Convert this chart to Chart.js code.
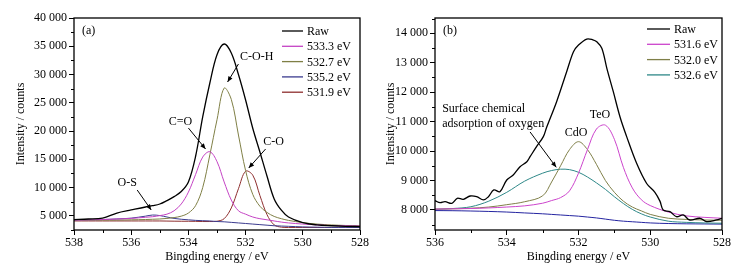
<!DOCTYPE html>
<html lang="en">
<head>
<meta charset="UTF-8">
<script src="https://cdn.jsdelivr.net/npm/chart.js"></script>
<title>O 1s XPS</title>
<style>
    body { margin: 0; background: #fff; }
    .wrap { position: relative; width: 747px; height: 273px; }
    #chartA { position: absolute; left: 0; top: 0; }
    #chartB { position: absolute; left: 370px; top: 0; }
</style>
</head>
<body>
<div class="wrap">
    <canvas id="chartA" width="370" height="273"></canvas>
    <canvas id="chartB" width="377" height="273"></canvas>
</div>
<script>
    // ---- panel (a) ----
    const aE = [538, 537.5, 537, 536.5, 536, 535.5, 535.25, 535, 534.75, 534.5, 534.25, 534, 533.75, 533.5, 533.25,
        533, 532.75, 532.5, 532.25, 532, 531.75, 531.5, 531.25, 531, 530.75, 530.5, 530, 529.5, 529, 528.5, 528];
    const aRaw = [4350, 4450, 4620, 5500, 6040, 6570, 6800, 7100, 7700, 8400, 9300, 11000, 15500, 22500, 28500,
        33500, 35400, 33800, 30000, 25500, 20500, 16300, 12000, 8000, 6000, 4800, 3800, 3400, 3250, 3150, 3100];
    const a5333 = [4250, 4300, 4350, 4450, 4550, 4750, 4850, 5050, 5300, 5900, 7100, 9200, 12300, 15400, 16350,
        14600, 11000, 7800, 5900, 5300, 4800, 4500, 4300, 4100, 3900, 3750, 3550, 3400, 3300, 3250, 3200];
    const a5327 = [4250, 4250, 4250, 4250, 4300, 4350, 4400, 4450, 4550, 4700, 4950, 5500, 6800, 10000, 15800,
        22000, 27600, 25600, 19300, 13000, 8800, 6700, 5600, 4900, 4500, 4200, 3800, 3550, 3400, 3300, 3250];
    const a5352 = [4250, 4300, 4350, 4450, 4600, 4950, 5150, 5050, 4800, 4550, 4400, 4300, 4200, 4150, 4100,
        4000, 3950, 3850, 3750, 3650, 3550, 3450, 3350, 3250, 3200, 3150, 3050, 3000, 2950, 2950, 2950];
    const a5319 = [4100, 4100, 4100, 4100, 4100, 4100, 4100, 4100, 4080, 4060, 4050, 4050, 4030, 4000, 4000,
        4050, 4500, 6400, 9800, 12900, 12200, 8600, 5200, 3400, 3000, 2950, 2950, 2950, 2950, 2950, 2950];
    const aXTicks = [538, 536, 534, 532, 530, 528];
    const aXMinor = [537, 535, 533, 531, 529];
    const aYTicks = [5000, 10000, 15000, 20000, 25000, 30000, 35000, 40000];
    const aYMinor = [2500, 7500, 12500, 17500, 22500, 27500, 32500, 37500];

    // ---- panel (b) ----
    const bRawE = [536, 535.86, 535.72, 535.53, 535.38, 535.21, 535.02, 534.84, 534.65, 534.51, 534.36, 534.19, 534,
        533.82, 533.63, 533.44, 533.35, 533.17, 532.98, 532.89, 532.61, 532.33, 532.14, 532, 531.77, 531.6, 531.49,
        531.35, 531.21, 531.03, 530.84, 530.66, 530.38, 530.1, 529.87, 529.73, 529.64, 529.45, 529.27, 529.08,
        528.9, 528.61, 528.43, 528.15, 528];
    const bRaw = [8316, 8248, 8282, 8227, 8397, 8363, 8475, 8452, 8340, 8452, 8680, 8620, 9019,
        9188, 9470, 9640, 9810, 10150, 10490, 10800, 11678, 12696, 13375, 13603, 13806, 13780, 13715,
        13491, 12811, 12017, 11150, 10500, 9586, 8900, 8600, 8300, 8000, 7942, 7772, 7830,
        7660, 7718, 7603, 7660, 7718];
    const bE = [536, 535.5, 535, 534.5, 534, 533.5, 533, 532.75, 532.5, 532.25, 532, 531.75, 531.5, 531.25,
        531, 530.75, 530.5, 530.25, 530, 529.5, 529, 528.5, 528];
    const b5316 = [8030, 8040, 8050, 8070, 8100, 8140, 8230, 8320, 8420, 8650, 9250, 10050, 10750, 10880,
        10400, 9450, 8750, 8350, 8150, 7930, 7800, 7750, 7720];
    const b5320 = [8030, 8040, 8060, 8100, 8180, 8280, 8480, 8950, 9500, 10050, 10320, 10050, 9550, 9000,
        8600, 8300, 8100, 7970, 7850, 7720, 7680, 7660, 7650];
    const b5326 = [8020, 8050, 8110, 8300, 8600, 8980, 9250, 9340, 9385, 9370, 9280, 9120, 8920, 8700,
        8450, 8220, 8020, 7870, 7760, 7620, 7580, 7560, 7550];
    const bBase = [7980, 7975, 7965, 7950, 7930, 7900, 7870, 7850, 7830, 7810, 7790, 7760, 7730, 7690,
        7650, 7620, 7600, 7580, 7560, 7540, 7530, 7525, 7520];
    const bXTicks = [536, 534, 532, 530, 528];
    const bXMinor = [535, 533, 531, 529];
    const bYTicks = [8000, 9000, 10000, 11000, 12000, 13000, 14000];
    const bYMinor = [7500, 8500, 9500, 10500, 11500, 12500, 13500, 14500];

    const serif = "'Liberation Serif', 'Times New Roman', serif";
    const fmt = v => String(v).replace(/\B(?=(\d{3})+(?!\d))/g, ' ');
    const pts = (xs, ys) => xs.map((x, i) => ({ x: x, y: ys[i] }));

    function serie(label, xs, ys, color, width) {
        return {
            label: label,
            data: pts(xs, ys),
            borderColor: color,
            borderWidth: width || 1,
            pointRadius: 0,
            tension: 0.35,
            fill: false
        };
    }

    // frame, minor ticks, legend, labels and arrows
    const decor = {
        id: 'decor',
        afterDatasetsDraw(chart, args, o) {
            const { ctx, chartArea: ca, scales: { x, y } } = chart;
            ctx.save();
            ctx.strokeStyle = '#000';
            ctx.lineWidth = 1.3;
            ctx.strokeRect(ca.left, ca.top, ca.right - ca.left, ca.bottom - ca.top);

            ctx.lineWidth = 1;
            ctx.beginPath();
            o.minorX.forEach(v => {
                const px = Math.round(x.getPixelForValue(v)) + 0.5;
                ctx.moveTo(px, ca.bottom); ctx.lineTo(px, ca.bottom + 3);
            });
            o.minorY.forEach(v => {
                const py = Math.round(y.getPixelForValue(v)) + 0.5;
                ctx.moveTo(ca.left, py); ctx.lineTo(ca.left - 3, py);
            });
            ctx.stroke();

            ctx.fillStyle = '#000';
            ctx.font = '12px ' + serif;
            ctx.textBaseline = 'middle';
            ctx.textAlign = 'left';
            ctx.fillText(o.tag, ca.left + 8, ca.top + 13);

            // legend (the fitted background of (b) has no entry)
            chart.data.datasets.filter(d => d.label).forEach((d, i) => {
                const ly = ca.top + o.legTop + i * 15.3;
                ctx.strokeStyle = d.borderColor;
                ctx.lineWidth = 1.3;
                ctx.beginPath();
                ctx.moveTo(ca.right - o.legLeft, ly);
                ctx.lineTo(ca.right - o.legLeft + o.legLine, ly);
                ctx.stroke();
                ctx.fillText(d.label, ca.right - o.legLeft + o.legLine + 4, ly + 1);
            });

            // notes
            o.notes.forEach(n => {
                ctx.textAlign = n.align || 'center';
                ctx.fillText(n.text, x.getPixelForValue(n.e), y.getPixelForValue(n.v));
            });

            // arrows
            ctx.strokeStyle = '#000';
            ctx.lineWidth = 1;
            o.arrows.forEach(a => {
                const x0 = x.getPixelForValue(a.e0), y0 = y.getPixelForValue(a.v0);
                const x1 = x.getPixelForValue(a.e1), y1 = y.getPixelForValue(a.v1);
                const ang = Math.atan2(y1 - y0, x1 - x0);
                ctx.beginPath();
                ctx.moveTo(x0, y0); ctx.lineTo(x1, y1);
                ctx.stroke();
                ctx.beginPath();
                ctx.moveTo(x1, y1);
                ctx.lineTo(x1 - 6 * Math.cos(ang - 0.4), y1 - 6 * Math.sin(ang - 0.4));
                ctx.lineTo(x1 - 6 * Math.cos(ang + 0.4), y1 - 6 * Math.sin(ang + 0.4));
                ctx.closePath();
                ctx.fill();
            });
            ctx.restore();
        }
    };

    function makeChart(id, c) {
        return new Chart(document.getElementById(id), {
            type: 'line',
            data: { datasets: c.datasets },
            options: {
                responsive: false,
                animation: false,
                layout: { padding: { top: 18, right: c.padRight, left: 0, bottom: 0 } },
                plugins: { legend: { display: false }, tooltip: { enabled: false }, decor: c.decor },
                scales: {
                    x: {
                        type: 'linear', reverse: true, min: c.xMin, max: c.xMax,
                        afterBuildTicks: s => { s.ticks = c.xTicks.map(v => ({ value: v })); },
                        afterFit: s => { s.height = 43; },
                        grid: { drawOnChartArea: false, tickLength: 5, color: '#000' },
                        border: { display: false },
                        ticks: { color: '#000', font: { family: serif, size: 12 }, padding: 1, maxRotation: 0 },
                        title: {
                            display: true, text: 'Bingding energy / eV', color: '#000',
                            font: { family: serif, size: 12 }, padding: { top: 0, bottom: 9 }
                        }
                    },
                    y: {
                        type: 'linear', min: c.yMin, max: c.yMax,
                        afterBuildTicks: s => { s.ticks = c.yTicks.map(v => ({ value: v })); },
                        afterFit: s => { s.width = c.yWidth; },
                        grid: { drawOnChartArea: false, tickLength: 5, color: '#000' },
                        border: { display: false },
                        ticks: { color: '#000', font: { family: serif, size: 12 }, padding: 2, callback: v => fmt(v) },
                        title: {
                            display: true, text: 'Intensity / counts', color: '#000',
                            font: { family: serif, size: 12 }, padding: { top: 14, bottom: 0 }
                        }
                    }
                }
            },
            plugins: [decor]
        });
    }

    makeChart('chartA', {
        xMin: 528, xMax: 538, yMin: 2500, yMax: 40000,
        xTicks: aXTicks, yTicks: aYTicks, yWidth: 74, padRight: 10,
        datasets: [
            serie('Raw', aE, aRaw, '#000000', 1.3),
            serie('533.3 eV', aE, a5333, '#c443c4'),
            serie('532.7 eV', aE, a5327, '#7f7f45'),
            serie('535.2 eV', aE, a5352, '#3b3b8f'),
            serie('531.9 eV', aE, a5319, '#8e2e2e')
        ],
        decor: {
            tag: '(a)', minorX: aXMinor, minorY: aYMinor,
            legTop: 13, legLeft: 78, legLine: 21,
            notes: [
                { text: 'C-O-H', e: 531.61, v: 33100 },
                { text: 'C=O', e: 534.28, v: 21600 },
                { text: 'C-O', e: 531.02, v: 18070 },
                { text: 'O-S', e: 536.14, v: 10810 }
            ],
            arrows: [
                { e0: 532.25, v0: 31860, e1: 532.63, v1: 28680 },
                { e0: 534.0, v0: 20540, e1: 533.40, v1: 16830 },
                { e0: 531.30, v0: 16830, e1: 531.89, v1: 13470 },
                { e0: 535.79, v0: 9570, e1: 535.30, v1: 6040 }
            ]
        }
    });

    makeChart('chartB', {
        xMin: 528, xMax: 536, yMin: 7320, yMax: 14520,
        xTicks: bXTicks, yTicks: bYTicks, yWidth: 65, padRight: 25,
        datasets: [
            serie('Raw', bRawE, bRaw, '#000000', 1.3),
            serie('531.6 eV', bE, b5316, '#cc44cc'),
            serie('532.0 eV', bE, b5320, '#7f7f48'),
            serie('532.6 eV', bE, b5326, '#2e8888'),
            serie('', bE, bBase, '#2424a0')
        ],
        decor: {
            tag: '(b)', minorX: bXMinor, minorY: bYMinor,
            legTop: 11, legLeft: 75, legLine: 23,
            notes: [
                { text: 'Surface chemical', e: 535.8, v: 11430, align: 'left' },
                { text: 'adsorption of oxygen', e: 535.8, v: 10920, align: 'left' },
                { text: 'CdO', e: 532.07, v: 10610 },
                { text: 'TeO', e: 531.40, v: 11230 }
            ],
            arrows: [
                { e0: 533.35, v0: 10650, e1: 532.62, v1: 9450 }
            ]
        }
    });
</script>
</body>
</html>
